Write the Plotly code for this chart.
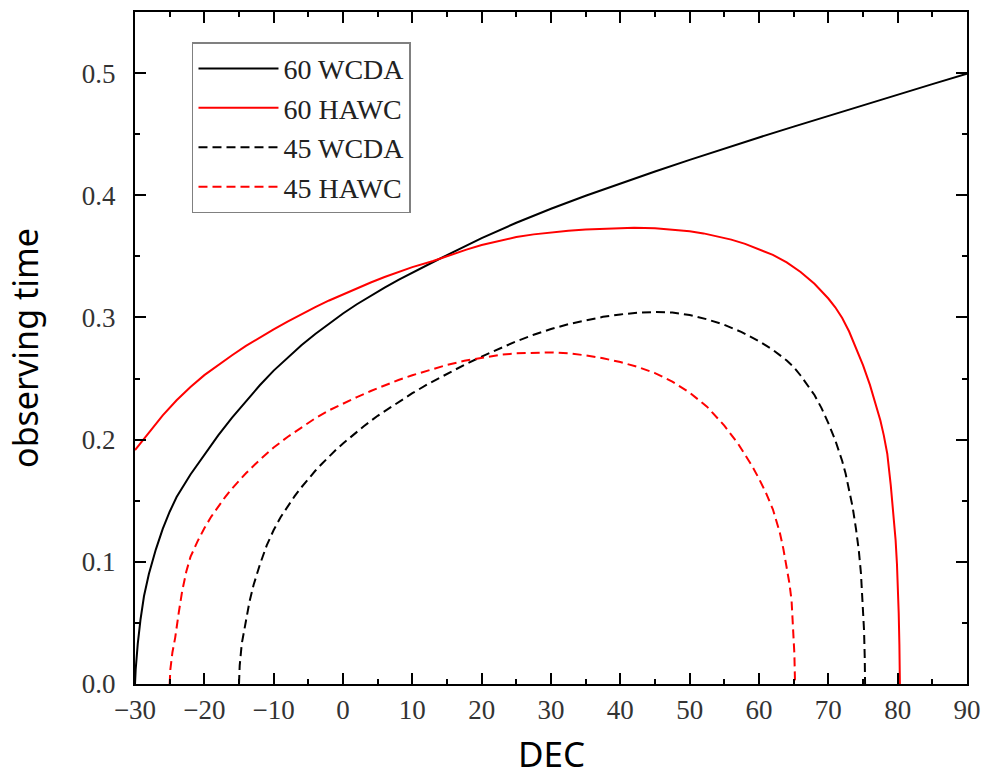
import plotly.graph_objects as go

# 60 WCDA (black solid)
wcda60_x = [-30, -29.9, -29.6, -29.2, -28.7, -28, -27, -26, -25, -24, -22, -20, -18, -16, -14, -12, -10,
            -8, -6, -4, -2, 0, 2, 4, 6, 8, 10, 12, 13.3, 15, 20, 25, 30, 35, 40, 45, 50, 55, 60, 65, 70,
            75, 80, 85, 90]
wcda60_y = [0.0, 0.012, 0.033, 0.053, 0.072, 0.090, 0.110, 0.127, 0.141, 0.153, 0.1715, 0.188, 0.2035,
            0.218, 0.2315, 0.2445, 0.2565, 0.2672, 0.2772, 0.2865, 0.2952, 0.3032, 0.3108, 0.3178, 0.3245,
            0.3308, 0.3368, 0.3425, 0.3462, 0.351, 0.365, 0.3775, 0.389, 0.3996, 0.4098, 0.4195, 0.429,
            0.4383, 0.4473, 0.4562, 0.465, 0.4737, 0.4824, 0.491, 0.4995]

# 60 HAWC (red solid)
hawc60_x = [-30, -28, -26, -24, -22, -20, -18, -16, -14, -12, -10, -8, -6, -4, -2, 0, 2, 4, 6, 8, 10, 13,
            15.5, 17.8, 20, 22.6, 25, 27.5, 30, 32.5, 35, 37.5, 40, 42, 45, 47, 50, 52, 54, 56, 58, 60, 62,
            64, 66, 68, 70, 71, 72, 73, 74, 75, 76, 77, 77.5, 78, 78.5, 79, 79.4, 79.7, 79.9, 80.05, 80.15,
            80.25, 80.32]
hawc60_y = [0.1915, 0.2058, 0.2199, 0.2322, 0.2431, 0.2528, 0.2611, 0.2691, 0.2767, 0.2837, 0.2903,
            0.2966, 0.3027, 0.3085, 0.3139, 0.3190, 0.3239, 0.3286, 0.3331, 0.3374, 0.3412, 0.3462, 0.3512,
            0.3555, 0.3593, 0.363, 0.3658, 0.368, 0.3697, 0.371, 0.372, 0.3727, 0.3732, 0.3734, 0.373, 0.372,
            0.3705, 0.3688, 0.3665, 0.3637, 0.3602, 0.356, 0.3512, 0.345, 0.3372, 0.3275, 0.3155, 0.3083,
            0.2995, 0.2885, 0.2755, 0.261, 0.2448, 0.2265, 0.2158, 0.2035, 0.1885, 0.163, 0.140, 0.118,
            0.098, 0.078, 0.058, 0.032, 0.0]

# 45 WCDA (black dashed)
wcda45_x = [-15, -14.9, -14.6, -14.1, -13.5, -12.9, -12, -11, -10, -9, -8, -7, -6, -5, -4, -3, -2, -1, 0,
            1, 3, 5, 8, 10, 12.5, 15, 17.5, 20, 22.5, 25, 27.5, 30, 32.5, 35, 37.5, 40, 42.5, 45, 47.5, 50,
            52.5, 55, 57.5, 60, 62, 64, 65, 66, 67, 68, 69, 70, 71, 72, 72.5, 73, 73.5, 74, 74.4, 74.7,
            74.95, 75.15, 75.25, 75.3]
wcda45_y = [0.0, 0.015, 0.033, 0.050, 0.067, 0.081, 0.0975, 0.1135, 0.126, 0.1365, 0.1455, 0.1535, 0.161,
            0.168, 0.1745, 0.1805, 0.1863, 0.1918, 0.1968, 0.2017, 0.211, 0.2195, 0.231, 0.238, 0.2463,
            0.254, 0.2612, 0.268, 0.2745, 0.2805, 0.2858, 0.2905, 0.2945, 0.2978, 0.3005, 0.3025, 0.3039,
            0.3045, 0.304, 0.302, 0.2985, 0.294, 0.288, 0.2805, 0.2735, 0.2648, 0.2595, 0.2525, 0.245,
            0.2365, 0.226, 0.2135, 0.1995, 0.1825, 0.172, 0.1595, 0.145, 0.1265, 0.109, 0.091, 0.068, 0.044,
            0.022, 0.0]

# 45 HAWC (red dashed)
hawc45_x = [-25, -24.9, -24.6, -24.2, -23.7, -23.2, -22.6, -22, -21, -20, -19, -18, -17, -16, -14, -12, -10,
            -8, -6, -4, -2, 0, 2, 4, 6, 8, 10, 12.5, 15, 17.5, 20, 22.5, 25, 27.5, 30, 32.5, 35, 37.5, 40,
            42.5, 45, 47.5, 50, 52.5, 55, 57, 58, 59, 60, 61, 62, 63, 63.5, 64, 64.4, 64.7, 64.95, 65.1, 65.2]
hawc45_y = [0.0, 0.012, 0.026, 0.038, 0.058, 0.076, 0.092, 0.104, 0.1165, 0.1275, 0.137, 0.1455, 0.153,
            0.160, 0.1725, 0.1835, 0.1935, 0.2022, 0.2102, 0.2175, 0.224, 0.2297, 0.2348, 0.2398, 0.2445,
            0.2488, 0.2527, 0.2572, 0.2612, 0.2645, 0.2672, 0.2693, 0.2706, 0.2713, 0.2714, 0.2706, 0.269,
            0.2666, 0.2635, 0.2595, 0.2545, 0.2475, 0.2385, 0.227, 0.2115, 0.1965, 0.188, 0.1785, 0.168,
            0.1565, 0.143, 0.124, 0.111, 0.096, 0.082, 0.068, 0.045, 0.025, 0.0]

series_names = ["60 WCDA", "60 HAWC", "45 WCDA", "45 HAWC"]
x_title = "DEC"
y_title = "observing time"

SERIF = "Liberation Serif"
SANS = "Noto Sans"

fig = go.Figure()
fig.add_trace(go.Scatter(x=wcda60_x, y=wcda60_y, mode="lines", name=series_names[0],
                         line=dict(color="#000000", width=2)))
fig.add_trace(go.Scatter(x=hawc60_x, y=hawc60_y, mode="lines", name=series_names[1],
                         line=dict(color="#ff0000", width=2)))
fig.add_trace(go.Scatter(x=wcda45_x, y=wcda45_y, mode="lines", name=series_names[2],
                         line=dict(color="#000000", width=2, dash="9px,5px")))
fig.add_trace(go.Scatter(x=hawc45_x, y=hawc45_y, mode="lines", name=series_names[3],
                         line=dict(color="#ff0000", width=2, dash="9px,5px")))

axis_common = dict(
    showline=True, linecolor="#000000", linewidth=2, mirror="allticks",
    ticks="inside", ticklen=11, tickwidth=2, tickcolor="#000000",
    showgrid=False, zeroline=False, automargin=False,
    tickfont=dict(family=SERIF, size=27, color="#333333"),
)

fig.update_xaxes(
    range=[-30, 90], tick0=-30, dtick=10,
    minor=dict(ticks="inside", ticklen=5, tickwidth=2, dtick=5, tick0=-30, tickcolor="#000000"),
    ticklabelstandoff=1,
    **axis_common,
)
fig.update_yaxes(
    range=[0, 0.55], tick0=0, dtick=0.1, tickformat=".1f",
    minor=dict(ticks="inside", ticklen=5, tickwidth=2, dtick=0.05, tick0=0, tickcolor="#000000"),
    title=dict(text=y_title, font=dict(family=SANS, size=34, color="#000000"), standoff=33),
    ticklabelstandoff=12,
    **axis_common,
)

# x-axis title placed as an annotation so it can sit lower than the constrained axis title
fig.add_annotation(
    text=x_title, xref="paper", yref="paper", x=0.5, y=-0.1027,
    xanchor="center", yanchor="middle", showarrow=False,
    font=dict(family=SANS, size=35, color="#000000"),
)

fig.update_layout(
    width=986, height=779,
    margin=dict(l=135, r=19, t=12, b=95),
    paper_bgcolor="#ffffff", plot_bgcolor="#ffffff",
    showlegend=True,
    legend=dict(
        x=0.0685, y=0.955, xanchor="left", yanchor="top",
        bgcolor="#ffffff", bordercolor="#808080", borderwidth=1.5,
        font=dict(family=SERIF, size=28, color="#222222"),
        itemwidth=80, tracegroupgap=0,
    ),
)

# remove the default 8px page margin so the 986x779 figure fills the window exactly
fig.write_html("out.html", config={"displayModeBar": False},
               post_script="document.body.style.margin='0';")
